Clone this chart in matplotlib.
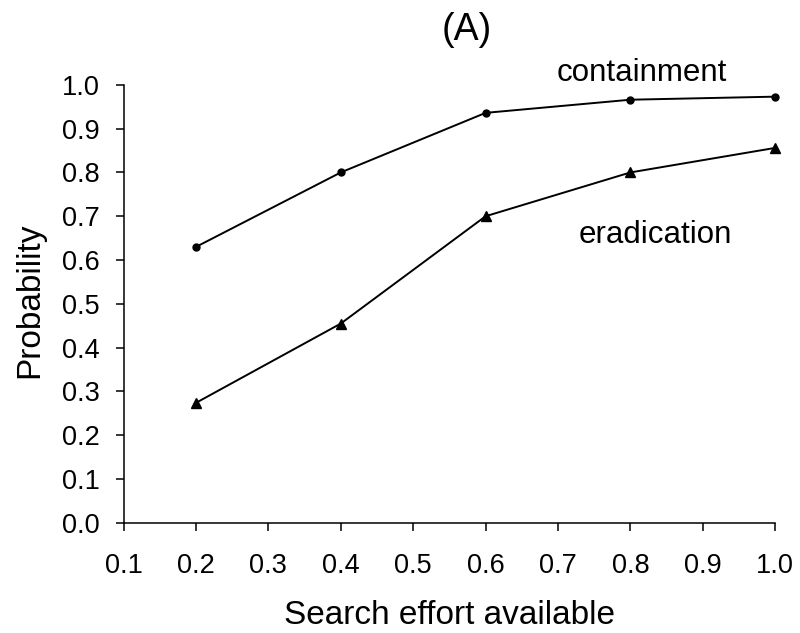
import matplotlib
matplotlib.use("Agg")
import matplotlib.pyplot as plt

plt.rcParams["font.family"] = ["Liberation Sans", "DejaVu Sans"]

effort = [0.2, 0.4, 0.6, 0.8, 1.0]
containment = [0.63, 0.80, 0.936, 0.966, 0.973]
eradication = [0.274, 0.455, 0.70, 0.80, 0.856]

x_ticks = [0.1, 0.2, 0.3, 0.4, 0.5, 0.6, 0.7, 0.8, 0.9, 1.0]
y_ticks = [0.0, 0.1, 0.2, 0.3, 0.4, 0.5, 0.6, 0.7, 0.8, 0.9, 1.0]

fig = plt.figure(figsize=(8, 6.33), dpi=100)
ax = fig.add_axes([0.1545, 0.174, 0.8145, 0.692])

ax.plot(effort, containment, color="black", linewidth=1.4,
        marker="o", markersize=5, clip_on=False)
ax.plot(effort, eradication, color="black", linewidth=1.4,
        marker="^", markersize=6.5, clip_on=False)

ax.set_xlim(0.1, 1.0)
ax.set_ylim(0.0, 1.0)
ax.set_xticks(x_ticks)
ax.set_yticks(y_ticks)
ax.set_xticklabels([f"{v:.1f}" for v in x_ticks])
ax.set_yticklabels([f"{v:.1f}" for v in y_ticks])

for side in ("top", "right"):
    ax.spines[side].set_visible(False)
for side in ("left", "bottom"):
    ax.spines[side].set_linewidth(1.1)

ax.tick_params(axis="both", direction="out", length=6, width=1.1,
               labelsize=19.5)
ax.tick_params(axis="x", pad=16)
ax.tick_params(axis="y", pad=11)

ax.set_xlabel("Search effort available", fontsize=24)
ax.set_ylabel("Probability", fontsize=24)
ax.xaxis.set_label_coords(0.5, -0.176)
ax.yaxis.set_label_coords(-0.12, 0.509)

ax.text(0.8155, 1.027, "containment", fontsize=22.5, ha="center", va="center")
ax.text(0.835, 0.658, "eradication", fontsize=22.5, ha="center", va="center")

fig.text(467 / 800, 1 - 30 / 633, "(A)", fontsize=27, ha="center", va="center")

fig.savefig("out.png", dpi=100)
